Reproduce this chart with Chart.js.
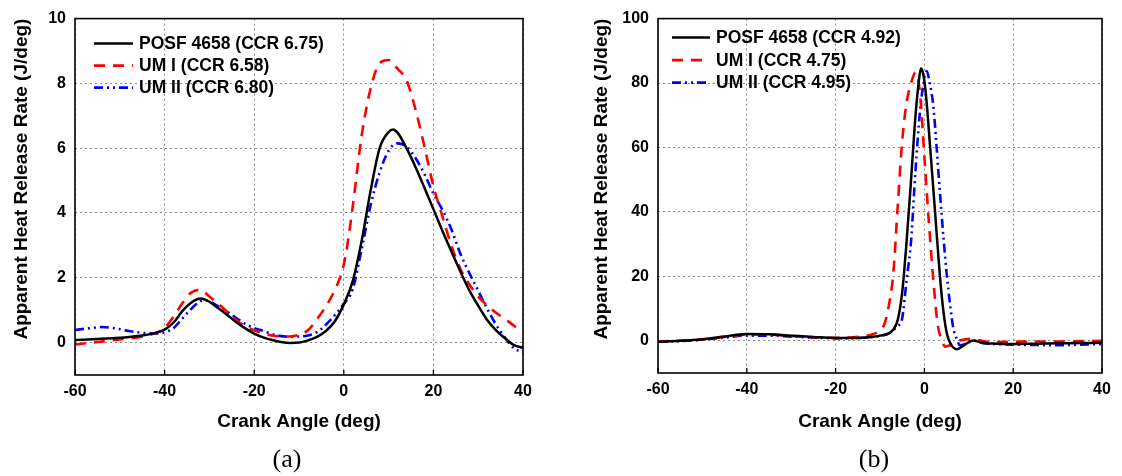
<!DOCTYPE html>
<html>
<head>
<meta charset="utf-8">
<script src="https://cdn.jsdelivr.net/npm/chart.js@4"></script>
<style>
  html, body { margin: 0; padding: 0; background: #fff; }
  body { width: 1122px; height: 476px; position: relative; overflow: hidden; }
  .panel { position: absolute; top: 0; }
  .cap { position: absolute; top: 444px; width: 60px; text-align: center;
         font-family: "Liberation Serif", "Times New Roman", serif; font-size: 26px; line-height: 30px; color: #000; }
</style>
</head>
<body>
<div class="panel" style="left:0"><canvas id="chartA" width="560" height="476"></canvas></div>
<div class="panel" style="left:580px"><canvas id="chartB" width="542" height="476"></canvas></div>
<div class="cap" style="left:257px">(a)</div>
<div class="cap" style="left:844px">(b)</div>
<script>
// ---- shared axis labels ----
const xTickLabels = [-60, -40, -20, 0, 20, 40];
const yTickLabelsA = [0, 2, 4, 6, 8, 10];
const yTickLabelsB = [0, 20, 40, 60, 80, 100];
const xTitle = 'Crank Angle (deg)';
const yTitle = 'Apparent Heat Release Rate (J/deg)';

// ---- panel (a): apparent heat release rate, J/deg ----
const namesA = ['POSF 4658 (CCR 6.75)', 'UM I (CCR 6.58)', 'UM II (CCR 6.80)'];
const angleA_posf = [-60,-55,-50,-45,-42,-40,-38,-36,-34,-32,-30,-28,-26,-24,-22,-20,-18,-16,-14,-12,-10,-8,-6,-4,-2,0,2,4,6,8,10,11,12,14,16,18,20,22,24,26,28,30,32,34,36,38,40];
const hrrA_posf   = [0.08,0.11,0.15,0.22,0.30,0.40,0.62,0.98,1.24,1.36,1.26,1.06,0.85,0.63,0.44,0.28,0.16,0.08,0.02,-0.01,0.0,0.07,0.18,0.36,0.66,1.18,1.9,3.15,4.7,6.0,6.5,6.58,6.48,6.0,5.42,4.78,4.12,3.45,2.82,2.2,1.62,1.14,0.70,0.38,0.13,-0.08,-0.16];
const angleA_um1  = [-60,-55,-50,-45,-42,-40,-38,-36,-34,-32,-30,-28,-26,-24,-22,-20,-18,-16,-14,-12,-10,-8,-6,-4,-2,-1,0,1,2,4,6,8,10,12,14,16,18,20,22,24,26,28,30,32,34,36,38,40];
const hrrA_um1    = [-0.06,0.02,0.10,0.18,0.30,0.45,0.80,1.22,1.55,1.63,1.42,1.20,0.95,0.70,0.50,0.38,0.28,0.22,0.19,0.19,0.24,0.38,0.72,1.12,1.62,1.95,2.4,3.2,4.2,6.4,7.85,8.62,8.72,8.45,8.1,7.2,6.05,4.83,3.9,3.0,2.28,1.8,1.42,1.15,0.92,0.73,0.52,0.33];
const angleA_um2  = [-60,-57,-54,-51,-48,-45,-42,-40,-38,-36,-34,-32,-31,-30,-28,-26,-24,-22,-20,-18,-16,-14,-12,-10,-8,-6,-4,-2,0,2,4,6,8,10,12,14,16,18,20,22,24,26,28,30,32,34,36,38,40];
const hrrA_um2    = [0.39,0.44,0.48,0.44,0.36,0.30,0.28,0.32,0.45,0.75,1.05,1.28,1.31,1.27,1.12,0.95,0.76,0.58,0.45,0.36,0.26,0.20,0.18,0.19,0.22,0.32,0.55,0.85,1.2,1.65,2.9,4.25,5.25,5.92,6.15,6.05,5.7,5.2,4.6,4.1,3.5,2.75,2.15,1.6,1.05,0.55,0.15,-0.18,-0.30];

// ---- panel (b): apparent heat release rate, J/deg ----
const namesB = ['POSF 4658 (CCR 4.92)', 'UM I (CCR 4.75)', 'UM II (CCR 4.95)'];
const angleB_posf = [-60,-55,-50,-45,-40,-35,-30,-25,-20,-15,-12,-10,-8,-7,-6,-5,-4,-3,-2,-1.3,-0.8,-0.3,0.3,1.3,2.4,3.5,4.3,5.1,6,7.3,8.5,10,11,13,16,20,25,30,35,40];
const hrrB_posf   = [-0.3,0.0,0.5,1.3,2.1,2.0,1.6,1.2,0.9,0.9,1.2,1.6,2.3,3.5,6.5,15,31,50,70,80,84.5,83,77,60,40,20,9,2,-1.2,-2.6,-1.8,-0.4,0.1,-0.6,-0.9,-1.0,-0.9,-0.8,-0.7,-0.6];
const angleB_um1  = [-60,-55,-50,-45,-40,-35,-30,-25,-20,-15,-12,-10,-9,-8,-7,-6,-5,-4,-3,-2,-1,0,1,2,3,4,4.6,5.8,7.3,9,10.5,13,15,20,25,30,35,40];
const hrrB_um1    = [-0.2,0.0,0.4,1.2,2.0,1.9,1.5,1.1,0.9,1.2,1.9,3.2,5.2,11,21,42,62,74,80,83.3,77,57,37,19,5,0,-1.8,-1.4,-0.3,0.4,0.6,0.0,-0.4,-0.3,-0.2,-0.2,-0.1,0.0];
const angleB_um2  = [-60,-55,-50,-45,-40,-35,-30,-25,-20,-15,-10,-8,-7,-6,-5,-4,-3,-2,-1,-0.3,0.5,1.2,2,2.7,3.5,4.3,5,5.8,6.5,7.3,8,9.5,11,13,16,20,25,30,35,40];
const hrrB_um2    = [-0.3,-0.1,0.3,1.0,1.6,1.6,1.3,1.0,0.8,0.9,1.5,2.3,3.3,4.5,7,19,31,53,71,79,83.7,80,73,61,46,32,21,11,4,0.6,-1.4,-0.8,0.1,-0.7,-1.0,-1.2,-1.3,-1.4,-1.2,-1.0];

// ---- series styles ----
const seriesStyles = [
  { color: '#000000', width: 2.5, dash: [] },
  { color: '#ff0000', width: 2.6, dash: [11, 8] },
  { color: '#0000ff', width: 2.6, dash: [9, 4, 2, 4, 2, 4] }
];

const FONT = '"Liberation Sans", Arial, Helvetica, sans-serif';
Chart.defaults.font.family = FONT;
Chart.defaults.color = '#000';

function pairs(xs, ys) { return xs.map((x, i) => ({ x: x, y: ys[i] })); }

// plot frame plus short inward tick marks along the bottom edge
const framePlugin = {
  id: 'frame',
  afterDatasetsDraw(chart) {
    const { ctx, chartArea: a, scales } = chart;
    ctx.save();
    ctx.strokeStyle = '#000';
    ctx.lineWidth = 1.6;
    ctx.strokeRect(a.left, a.top, a.right - a.left, a.bottom - a.top);
    ctx.lineWidth = 1.3;
    scales.x.ticks.forEach(t => {
      const px = scales.x.getPixelForValue(t.value);
      ctx.beginPath();
      ctx.moveTo(px, a.bottom);
      ctx.lineTo(px, a.bottom - 5);
      ctx.stroke();
    });
    ctx.restore();
  }
};

// line key drawn inside the plot area
const keyPlugin = {
  id: 'lineKey',
  afterDraw(chart, args, o) {
    const { ctx, chartArea: a } = chart;
    ctx.save();
    ctx.font = 'bold ' + o.size + 'px ' + FONT;
    ctx.textBaseline = 'middle';
    ctx.textAlign = 'left';
    chart.data.datasets.forEach((ds, i) => {
      const y = a.top + o.dy + i * o.row;
      const x0 = a.left + o.dx;
      ctx.strokeStyle = ds.borderColor;
      ctx.lineWidth = ds.borderWidth;
      ctx.setLineDash(ds.borderDash || []);
      ctx.beginPath();
      ctx.moveTo(x0, y);
      ctx.lineTo(x0 + o.len, y);
      ctx.stroke();
      ctx.setLineDash([]);
      ctx.fillStyle = '#000';
      ctx.fillText(ds.label, x0 + o.len + o.gap, y + 1);
    });
    ctx.restore();
  }
};

function buildChart(id, p) {
  const datasets = p.series.map((s, i) => ({
    label: p.names[i],
    data: pairs(s[0], s[1]),
    borderColor: seriesStyles[i].color,
    borderWidth: seriesStyles[i].width,
    borderDash: seriesStyles[i].dash,
    pointRadius: 0,
    fill: false,
    cubicInterpolationMode: 'monotone'
  }));
  return new Chart(document.getElementById(id), {
    type: 'line',
    data: { datasets: datasets },
    plugins: [framePlugin, keyPlugin],
    options: {
      responsive: false,
      animation: false,
      devicePixelRatio: 1,
      layout: { padding: { left: 0, top: p.padTop, right: p.padRight, bottom: 0 } },
      plugins: {
        legend: { display: false },
        tooltip: { enabled: false },
        lineKey: p.key
      },
      scales: {
        x: {
          type: 'linear',
          min: xTickLabels[0],
          max: xTickLabels[xTickLabels.length - 1],
          afterBuildTicks: s => { s.ticks = xTickLabels.map(v => ({ value: v })); },
          afterFit: s => { s.height = p.xAxisHeight; },
          ticks: { font: { size: 16, weight: 'bold' }, padding: 7, maxRotation: 0, autoSkip: false,
                   callback: v => String(v) },
          grid: { color: '#8a8a8a', lineWidth: 1, drawTicks: false },
          border: { display: false, dash: [2, 3] },
          title: { display: true, text: xTitle, font: { size: 19, weight: 'bold' },
                   padding: { top: 0, bottom: 43 } }
        },
        y: {
          min: p.yMin,
          max: p.yMax,
          afterBuildTicks: s => { s.ticks = p.yTicks.map(v => ({ value: v })); },
          afterFit: s => { s.width = p.yAxisWidth; },
          ticks: { font: { size: 16, weight: 'bold' }, padding: 9, autoSkip: false,
                   callback: v => String(v) },
          grid: { color: '#8a8a8a', lineWidth: 1, drawTicks: false },
          border: { display: false, dash: [2, 3] },
          title: { display: true, text: yTitle, align: 'end', font: { size: 19, weight: 'bold' },
                   padding: { top: 10.6, bottom: 0 } }
        }
      }
    }
  });
}

buildChart('chartA', {
  names: namesA,
  series: [[angleA_posf, hrrA_posf], [angleA_um1, hrrA_um1], [angleA_um2, hrrA_um2]],
  yMin: -1, yMax: 10, yTicks: yTickLabelsA,
  padTop: 14, padRight: 37, yAxisWidth: 75, xAxisHeight: 101,
  key: { dx: 19, dy: 25, row: 22, len: 39, gap: 6, size: 17.5 }
});

buildChart('chartB', {
  names: namesB,
  series: [[angleB_posf, hrrB_posf], [angleB_um1, hrrB_um1], [angleB_um2, hrrB_um2]],
  yMin: -10, yMax: 100, yTicks: yTickLabelsB,
  padTop: 17, padRight: 20, yAxisWidth: 78, xAxisHeight: 103,
  key: { dx: 14, dy: 19, row: 22.5, len: 38, gap: 6, size: 17.5 }
});
</script>
</body>
</html>
